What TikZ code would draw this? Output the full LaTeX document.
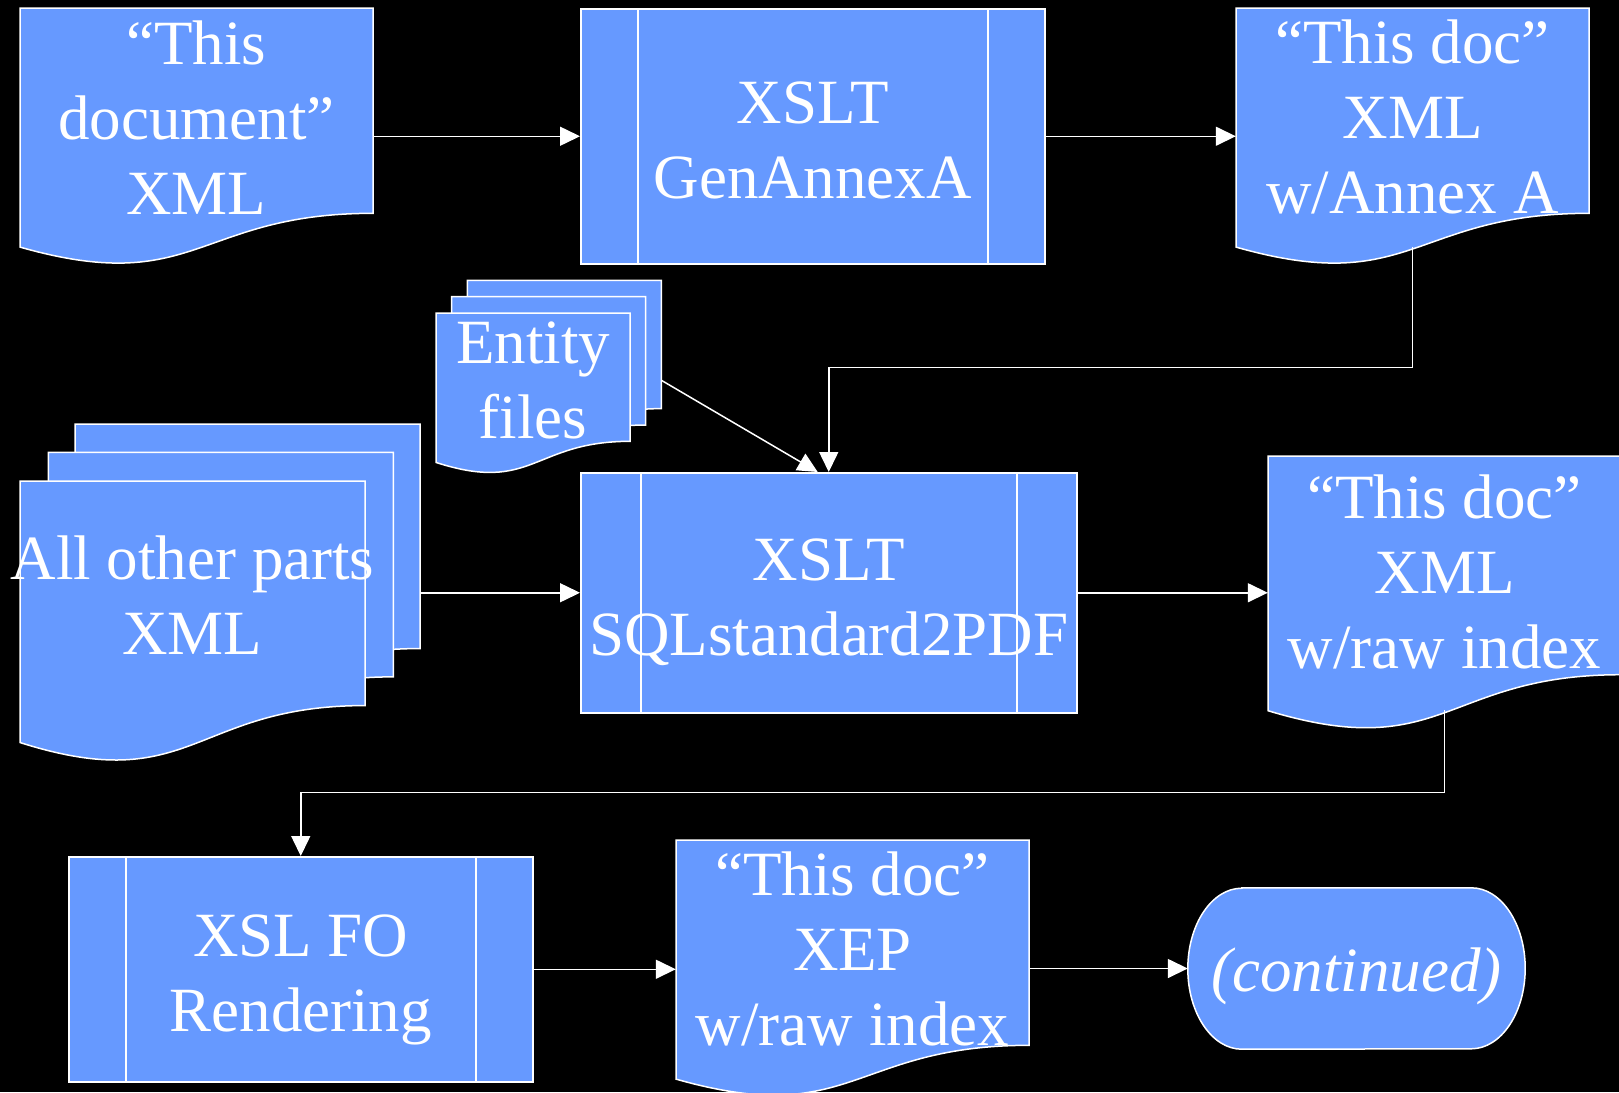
\documentclass[tikz,border=0pt]{standalone}
\usepackage{fontspec}
\setmainfont{Liberation Serif}
\usetikzlibrary{arrows.meta,calc}

\definecolor{flowblue}{HTML}{6699FF}
\pgfdeclarelayer{background}
\pgfsetlayers{background,main}

% document sheet with wavy bottom: node, xshift, yshift, width, full height
\newcommand{\docsheet}[5]{%
  \begin{scope}[shift={([xshift=#2pt,yshift=#3pt]#1.north)}]
    \filldraw[sheet] (-#4/2,0) -- (#4/2,0) -- (#4/2,0.802*#5)
      .. controls (0,0.802*#5) and (0,1.13*#5) .. (-#4/2,0.934*#5) -- cycle;
  \end{scope}}

\begin{document}
\begin{tikzpicture}[
    x=1pt, y=-1pt,
    every node/.style={text=white, inner sep=0pt, align=center, font=\fontsize{63}{75}\selectfont},
    sheet/.style={fill=flowblue, draw=white, line width=1.5pt},
    docbox/.style={minimum width=353pt, minimum height=218pt, anchor=north},
    procbox/.style={sheet, anchor=north west,
        execute at begin node={\rule{0pt}{139pt}}, execute at end node={\rule[-14pt]{0pt}{14pt}},
        path picture={\draw[white, line width=1.5pt]
            ([xshift=#1pt]path picture bounding box.north west) -- ([xshift=#1pt]path picture bounding box.south west)
            ([xshift=-#1pt]path picture bounding box.north east) -- ([xshift=-#1pt]path picture bounding box.south east);}},
    procbox/.default=57,
    termbox/.style={minimum width=337pt, minimum height=161pt, font=\fontsize{63}{75}\selectfont\itshape,
        execute at begin node={\rule{0pt}{60pt}}, execute at end node={\rule[-15pt]{0pt}{15pt}}},
    arrow/.style={draw=white, line width=1.5pt, -{Triangle[length=20pt,width=19pt]}}
]
\useasboundingbox (0,0) rectangle (1619,1092);
\begin{pgfonlayer}{background}
  \fill[black] (0,0) rectangle (1619,1092);
\end{pgfonlayer}

\node (thisdoc) [docbox] at (196.5,8) {“This\\document”\\XML};
\node (genannexa) [procbox, minimum width=464pt, minimum height=255pt] at (580,8) {XSLT\\GenAnnexA};
\node (annexa) [docbox] at (1412.5,8) {“This doc”\\XML\\w/Annex A};
\node (entity) [docbox, minimum width=194pt, minimum height=134pt] at (533,313) {Entity\\files};
\node (allparts) [docbox, minimum width=345pt, minimum height=228pt] at (192.5,481) {All other parts\\XML};
\node (sqlpdf) [procbox=60, minimum width=496pt, minimum height=240pt] at (580,472) {XSLT\\SQLstandard2PDF};
\node (rawidx) [docbox, minimum height=232pt] at (1444.5,456) {“This doc”\\XML\\w/raw index};
\node (xslfo) [procbox, minimum width=464pt, minimum height=225pt] at (68,856) {XSL FO\\Rendering};
\node (xep) [docbox] at (852.5,840) {“This doc”\\XEP\\w/raw index};
\node (cont) [termbox] at (1356.5,968.5) {(continued)};

\begin{pgfonlayer}{background}
  \docsheet{thisdoc}{0}{0}{353}{256}
  \docsheet{annexa}{0}{0}{353}{256}
  \docsheet{entity}{31.4}{32.7}{194}{160}
  \docsheet{entity}{15.7}{16.3}{194}{160}
  \docsheet{entity}{0}{0}{194}{160}
  \docsheet{allparts}{55}{57}{345}{280}
  \docsheet{allparts}{28.3}{28.7}{345}{280}
  \docsheet{allparts}{0}{0}{345}{280}
  \docsheet{rawidx}{0}{0}{353}{272.7}
  \docsheet{xep}{0}{0}{353}{256}
  \filldraw[sheet] ([xshift=54pt]cont.north west) -- ([xshift=-54pt]cont.north east)
    arc[start angle=90, end angle=-90, x radius=54pt, y radius=80.5pt]
    -- ([xshift=54pt]cont.south west)
    arc[start angle=270, end angle=90, x radius=54pt, y radius=80.5pt] -- cycle;
\end{pgfonlayer}

\coordinate (partsout) at ([xshift=228pt,yshift=-111pt]allparts.north);

\draw [arrow] (genannexa.west -| thisdoc.east) -- (genannexa.west);
\draw [arrow] (genannexa.east) -- (genannexa.east -| annexa.west);
\draw [arrow] ([yshift=-21pt]annexa.south) -- ++(0,120) -| (sqlpdf.north);
\draw [arrow] ([xshift=31pt]entity.east) -- ([xshift=-11pt]sqlpdf.north);
\draw [arrow] (partsout) -- (sqlpdf.west -| partsout) -- (sqlpdf.west);
\draw [arrow] (sqlpdf.east) -- (sqlpdf.east -| rawidx.west);
\draw [arrow] ([yshift=-22pt]rawidx.south) -- ++(0,82) -| (xslfo.north);
\draw [arrow] (xslfo.east) -- (xslfo.east -| xep.west);
\draw [arrow] (cont.west -| xep.east) -- (cont.west);

\end{tikzpicture}
\end{document}
